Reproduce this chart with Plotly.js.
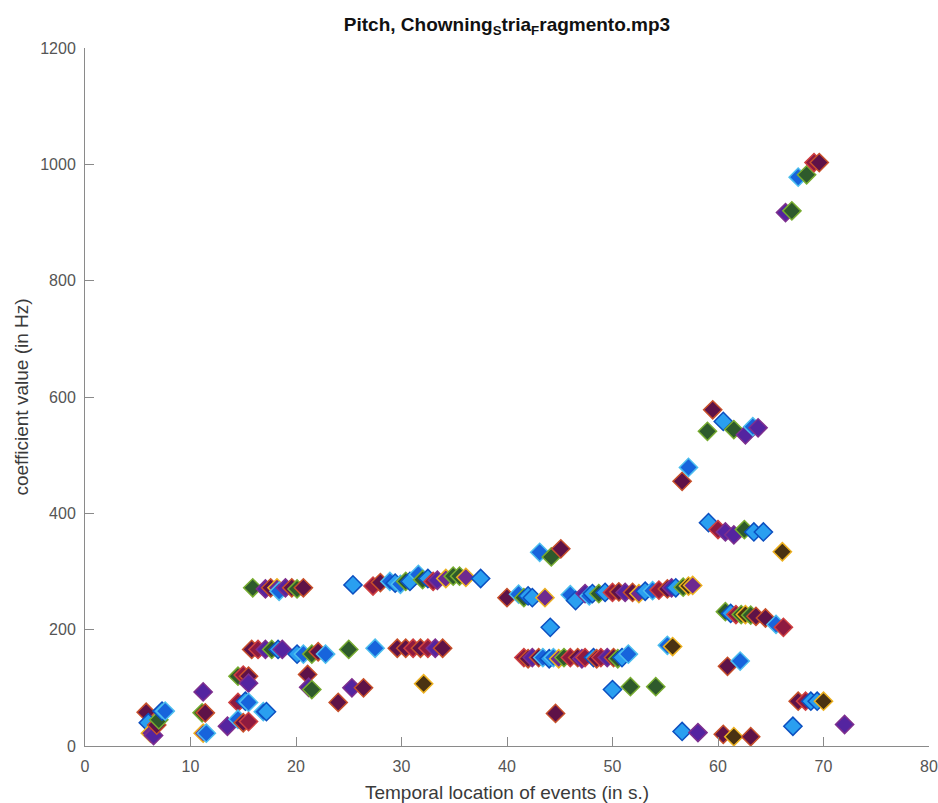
<!DOCTYPE html>
<html>
<head>
<meta charset="utf-8">
<script src="https://cdn.plot.ly/plotly-3.0.1.min.js"></script>
<style>
  html, body { margin: 0; padding: 0; background: #ffffff; }
  #chart { width: 938px; height: 803px; }
</style>
</head>
<body>
<div id="chart"></div>
<script>
// Event onset times (s)
const eventTimes = [
  5.8, 6.0, 6.2, 6.5, 6.8, 7.0, 7.3, 7.6,
  11.2, 11.1, 11.4, 11.2, 11.5,
  13.5, 14.5, 15.0, 15.5, 15.5, 14.5, 15.2, 15.5, 14.5, 15.0, 15.5, 16.9, 17.2,
  15.9, 17.1, 17.6, 18.2, 18.4, 19.0, 19.6, 20.1, 20.7,
  15.8, 16.4, 17.1, 17.7, 18.3, 18.7,
  20.1, 20.7, 21.5, 22.1, 22.8,
  21.1, 21.2, 21.5,
  25.0, 24.0, 25.3, 26.4, 25.4,
  27.3, 28.0, 28.9, 29.4, 29.9, 30.4, 30.8, 31.6, 32.0, 32.5, 33.0, 33.4, 34.2, 34.9, 35.5, 36.1, 37.5,
  27.5, 29.6, 30.4, 31.1, 31.8, 32.5, 33.2, 33.9,
  32.1,
  40.0, 41.1, 41.6, 42.0, 42.4, 43.6,
  43.1, 44.2, 45.1,
  44.1,
  41.6, 42.0, 42.4, 43.0, 43.4, 44.0, 44.4, 44.9, 45.4, 46.0, 46.7, 47.1, 47.4, 48.2, 48.5, 48.9, 49.5, 50.1, 50.5, 50.9, 51.5,
  44.6,
  50.0, 51.7, 54.1,
  46.0, 46.5, 47.4, 47.8, 48.1, 48.7, 49.3, 50.0, 50.6, 51.2, 51.9, 52.5, 53.1, 53.8, 54.4, 55.2, 55.6, 56.0, 56.7, 57.2, 57.6,
  55.2, 55.7,
  56.6, 58.1, 60.5, 61.5, 63.1,
  59.5, 59.0, 60.5, 61.5, 62.6, 63.3, 63.8,
  56.6, 57.2,
  59.1, 60.0, 60.7, 61.5, 62.5, 63.4, 64.3,
  66.1,
  60.7, 61.2, 61.7, 62.2, 62.6, 63.1, 63.6, 64.5, 65.5, 66.2,
  60.9, 62.1,
  67.6, 68.3, 68.8, 69.4, 70.0,
  67.1, 72.0,
  66.4, 67.0, 67.6, 68.4, 69.1, 69.6
];

// Pitch estimate for each event (Hz)
const pitchValues = [
  58, 40, 22, 18, 36, 45, 60, 60,
  93, 57, 57, 22, 22,
  34, 120, 122, 120, 108, 75, 77, 75, 46, 40, 42, 59, 59,
  272, 270, 272, 272, 266, 272, 272, 270, 272,
  166, 166, 166, 166, 166, 166,
  158, 158, 158, 162, 158,
  123, 101, 97,
  166, 75, 100, 100, 277,
  275, 281, 283, 280, 278, 283, 283, 295, 286, 288, 283, 285, 288, 292, 292, 290, 288,
  168, 168, 168, 168, 168, 168, 168, 168,
  107,
  255, 261, 255, 258, 255, 255,
  333, 325, 339,
  204,
  152, 150, 152, 152, 152, 150, 152, 150, 152, 152, 152, 150, 152, 152, 150, 152, 152, 152, 150, 152, 158,
  56,
  97, 102, 102,
  260, 250, 262, 258, 262, 262, 264, 264, 265, 264, 264, 262, 266, 267, 268, 270, 272, 272, 273, 275, 276,
  173, 171,
  25, 23, 20, 16, 16,
  578, 541, 558, 544, 535, 549, 547,
  455, 479,
  384, 372, 368, 363, 372, 368, 368,
  334,
  231, 228, 226, 226, 226, 225, 223, 220, 209, 204,
  137, 146,
  77, 77, 77, 77, 77,
  34, 37,
  917, 920, 978, 982, 1003, 1003
];

// Colour key of each marker
const markerKeys = (
  "MLPVMGLB" +
  "VGMPB" +
  "VGRMVRLBBMRBL" +
  "GVMPBVMGM" +
  "MRVGLV" +
  "LBGMB" +
  "MVG" +
  "GMVML" +
  "RMBLBGLBGLRVPGGPL" +
  "BMMRMRVM" +
  "O" +
  "MBGLLP" +
  "BGM" +
  "L" +
  "RMVMBLBPGRMVRLMRVMGLB" +
  "M" +
  "LGG" +
  "BLVBLGLRMVMPLBRMVLGOP" +
  "BO" +
  "LVMOM" +
  "MGLGVBV" +
  "MB" +
  "LRVVGLL" +
  "O" +
  "GLRGOGMMBR" +
  "MB" +
  "MRLLO" +
  "LV" +
  "VGBGRM"
).split("");

const faceColors = {
  B: "#1764dc", L: "#2a9ff0", V: "#5424a0", M: "#5e1248",
  G: "#2e5a2c", R: "#8e1a40", P: "#6e2a90", O: "#4a3212"
};
const edgeColors = {
  B: "#4dbeee", L: "#0c4fc0", V: "#7e2f8e", M: "#c8502a",
  G: "#77ac30", R: "#d04040", P: "#edb120", O: "#edb120"
};

const trace = {
  type: "scatter",
  mode: "markers",
  x: eventTimes,
  y: pitchValues,
  marker: {
    symbol: "diamond",
    size: 14,
    color: markerKeys.map(k => faceColors[k]),
    line: { width: 1.5, color: markerKeys.map(k => edgeColors[k]) }
  },
  hoverinfo: "x+y",
  showlegend: false
};

const FONT = "Liberation Sans, Arial, Helvetica, sans-serif";
const axisFont = { family: FONT, size: 16, color: "#555555" };
const labelFont = { family: FONT, size: 19, color: "#3a3a3a" };

const layout = {
  width: 938,
  height: 803,
  paper_bgcolor: "#ffffff",
  plot_bgcolor: "#ffffff",
  margin: { l: 85, r: 9, t: 48, b: 57 },
  title: {
    text: "<b>Pitch, Chowning<sub>S</sub>tria<sub>F</sub>ragmento.mp3</b>",
    font: { family: FONT, size: 19, color: "#111111" },
    x: 0.5, xref: "paper", xanchor: "center",
    y: 0.970, yref: "container", yanchor: "middle"
  },
  xaxis: {
    range: [0, 80],
    tickvals: [0, 10, 20, 30, 40, 50, 60, 70, 80],
    ticks: "inside", ticklen: 9, tickcolor: "#8a8a8a", tickwidth: 1,
    ticklabelstandoff: 6,
    showline: true, linecolor: "#8a8a8a", linewidth: 1,
    showgrid: false, zeroline: false,
    tickfont: axisFont,
    title: { text: "Temporal location of events (in s.)", font: labelFont, standoff: 12 }
  },
  yaxis: {
    range: [0, 1200],
    tickvals: [0, 200, 400, 600, 800, 1000, 1200],
    ticks: "inside", ticklen: 9, tickcolor: "#8a8a8a", tickwidth: 1,
    ticklabelstandoff: 5,
    showline: true, linecolor: "#8a8a8a", linewidth: 1,
    showgrid: false, zeroline: false,
    tickfont: axisFont,
    title: { text: "coefficient value (in Hz)", font: labelFont, standoff: 6 }
  }
};

Plotly.newPlot("chart", [trace], layout, { displayModeBar: false, staticPlot: true });
</script>
</body>
</html>
